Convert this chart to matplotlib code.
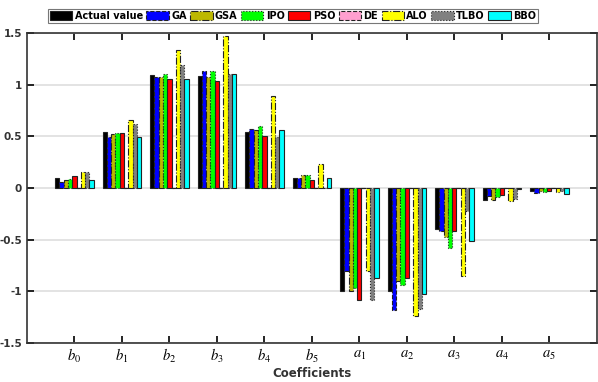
import matplotlib.pyplot as plt
import numpy as np

plt.rcParams["mathtext.fontset"] = "stix"

coef_labels = [r"$b_0$", r"$b_1$", r"$b_2$", r"$b_3$", r"$b_4$", r"$b_5$",
               r"$a_1$", r"$a_2$", r"$a_3$", r"$a_4$", r"$a_5$"]

actual = [0.10, 0.54, 1.09, 1.08, 0.54, 0.10, -1.00, -0.995, -0.40, -0.115, -0.03]
ga = [0.06, 0.495, 1.07, 1.135, 0.57, 0.095, -0.805, -1.18, -0.42, -0.08, -0.045]
gsa = [0.075, 0.52, 1.07, 1.07, 0.56, 0.125, -1.00, -0.90, -0.47, -0.12, -0.03]
ipo = [0.087, 0.53, 1.10, 1.135, 0.60, 0.125, -0.97, -0.935, -0.58, -0.085, -0.035]
pso = [0.12, 0.53, 1.055, 1.03, 0.50, 0.08, -1.08, -0.87, -0.42, -0.07, -0.03]
de = [0, 0, 0, 0, 0, 0, 0, 0, 0, 0, 0]
alo = [0.155, 0.66, 1.33, 1.47, 0.885, 0.235, -0.80, -1.24, -0.85, -0.125, -0.035]
tlbo = [0.15, 0.62, 1.185, 1.10, 0.49, 0.0, -1.08, -1.175, -0.22, -0.11, -0.03]
bbo = [0.075, 0.49, 1.05, 1.10, 0.565, 0.10, -0.87, -1.03, -0.515, -0.01, -0.055]

series = [
    ("Actual value", actual, "#000000", "-"),
    ("GA", ga, "#0000ff", "--"),
    ("GSA", gsa, "#bdb800", "-."),
    ("IPO", ipo, "#00ff00", ":"),
    ("PSO", pso, "#ff0000", "-"),
    ("DE", de, "#ff9fcf", "--"),
    ("ALO", alo, "#ffff00", "-."),
    ("TLBO", tlbo, "#808080", ":"),
    ("BBO", bbo, "#00ffff", "-"),
]

fig = plt.figure(figsize=(5.98, 3.82), dpi=100)
ax = fig.add_axes([0.045, 0.102, 0.953, 0.812])

x = np.arange(1, len(coef_labels) + 1)
w = 0.09
n = len(series)
for i, (name, vals, color, ls) in enumerate(series):
    ax.bar(x + (i - (n - 1) / 2) * w, vals, width=w, color=color,
           edgecolor="#222222", linewidth=0.8, linestyle=ls, label=name, zorder=3)

ax.set_xlim(0, 12)
ax.set_ylim(-1.5, 1.5)
ax.set_xticks(x)
ax.set_xticklabels(coef_labels, fontsize=10.5)
ax.set_yticks([-1.5, -1, -0.5, 0, 0.5, 1, 1.5])
ax.set_yticklabels(["-1.5", "-1", "-0.5", "0", "0.5", "1", "1.5"],
                   fontsize=7.5, fontweight="bold", color="#333333")
ax.tick_params(direction="in", length=5, width=1.2, top=True, right=True)
ax.tick_params(axis="x", pad=3)
ax.yaxis.grid(True, color="#dedede", linewidth=1.2, zorder=0)
ax.set_axisbelow(True)
for s in ax.spines.values():
    s.set_linewidth(1.2)
    s.set_color("#333333")
ax.set_xlabel("Coefficients", fontsize=8.5, fontweight="bold", color="#333333", labelpad=1)

leg = fig.legend(loc="center", bbox_to_anchor=(0.49, 0.958), ncol=9,
                 prop={"size": 7, "weight": "bold"}, frameon=True, fancybox=False,
                 handlelength=2.3, handleheight=1.0, handletextpad=0.25,
                 columnspacing=0.35, borderpad=0.25, borderaxespad=0)
leg.get_frame().set_edgecolor("#555555")
leg.get_frame().set_linewidth(0.8)

fig.savefig("out.png", dpi=100)
